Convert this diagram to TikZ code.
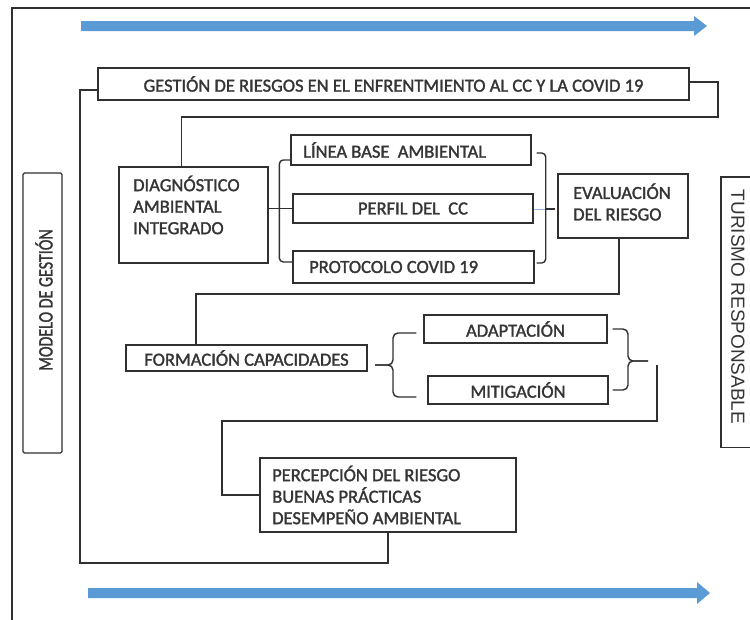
\documentclass[tikz,border=0pt]{standalone}
\usepackage{fontspec}
\setmainfont{Carlito}
\newfontfamily\semib{Carlito}[FakeBold=1.6]
\newfontfamily\arialf{Liberation Sans}
\usetikzlibrary{calc}
\definecolor{txt}{HTML}{353535}
\definecolor{ln}{HTML}{303030}
\definecolor{arrowblue}{HTML}{5B9BD5}
\definecolor{thinblue}{HTML}{8FB8E0}
\begin{document}
\begin{tikzpicture}[x=1pt,y=-1pt,
  box/.style={draw=ln, line width=1.4pt, inner sep=0pt, anchor=center},
  conn/.style={draw=ln, line width=1.4pt},
  lbl/.style={text=txt, font=\semib\fontsize{18.5}{21.5}\selectfont, inner sep=0pt},
  bigarrow/.style={fill=arrowblue, draw=none}]
\useasboundingbox (0,0) rectangle (750,619);
% outer frame
\draw[ln, line width=1.1pt] (770,8) -- (12,8) -- (12,640);
% blue arrows
\fill[bigarrow] (81,21) -- (694,21) -- (694,16) -- (707,26) -- (694,36) -- (694,31) -- (81,31) -- cycle;
\fill[bigarrow] (88,588) -- (697,588) -- (697,582) -- (710,593) -- (697,604) -- (697,598) -- (88,598) -- cycle;
% boxes
\node[box, lbl, minimum width=591pt, minimum height=32pt] (gest) at (393.5,84) {GESTIÓN DE RIESGOS EN EL ENFRENTMIENTO AL CC Y LA COVID 19};
\node[box, minimum width=149pt, minimum height=96pt] (diag) at (193.5,215) {};
\node[lbl, align=left, anchor=west] (diagt) at (133,205) {DIAGNÓSTICO\\AMBIENTAL\\INTEGRADO};
\node[box, minimum width=240pt, minimum height=30pt] (linea) at (411,150) {};
\node[lbl, anchor=west] (lineat) at (303,150) {LÍNEA BASE \ AMBIENTAL};
\node[box, lbl, minimum width=240pt, minimum height=29pt] (perfil) at (413,208.5) {PERFIL DEL \ CC};
\node[box, minimum width=241pt, minimum height=32pt] (proto) at (413.5,267) {};
\node[lbl, anchor=west] (protot) at (309,267) {PROTOCOLO COVID 19};
\node[box, minimum width=130pt, minimum height=64pt] (eval) at (623,206) {};
\node[lbl, align=left, anchor=west] (evalt) at (573,202) {EVALUACIÓN\\DEL RIESGO};
\node[box, lbl, minimum width=241pt, minimum height=26pt] (form) at (246.5,358) {FORMACIÓN CAPACIDADES};
\node[box, lbl, minimum width=183pt, minimum height=28pt] (adapt) at (515.5,329) {ADAPTACIÓN};
\node[box, lbl, minimum width=180pt, minimum height=28pt] (mitig) at (518,390) {MITIGACIÓN};
\node[box, minimum width=256pt, minimum height=74pt] (perc) at (388,495) {};
\node[lbl, align=left, anchor=west] (perct) at (272,495) {PERCEPCIÓN DEL RIESGO\\BUENAS PRÁCTICAS\\DESEMPEÑO AMBIENTAL};
\node[box, rounded corners=1.5pt, minimum width=39pt, minimum height=280pt] (modelo) at (42.5,313) {};
\node[lbl, font=\semib\fontsize{20.5}{24}\selectfont, rotate=90] (modelot) at (44,300) {\scalebox{0.78}[1]{MODELO DE GESTIÓN}};
\node[inner sep=0pt, minimum width=48pt, minimum height=270pt] (turismo) at (745,312) {};
\draw[conn] (turismo.north east) -- (turismo.north west) -- (turismo.south west) -- (turismo.south east);
\node[text=txt, inner sep=0pt, font=\arialf\fontsize{19}{22}\selectfont, rotate=-90] (turismot) at (738,307) {TURISMO RESPONSABLE};
% connectors
\coordinate (gL) at (80,90);
\coordinate (gB) at (80,563);
\draw[conn] (gest.west |- gL) -- (gL) -- (gB) -- (gB -| perc.south) -- (perc.south);
\coordinate (gR) at (718,82);
\coordinate (gR2) at (718,117);
\coordinate (dT) at ($(diag.north west)!0.42!(diag.north east)$);
\draw[conn] (gest.east |- gR) -- (gR) -- (gR2) -- (gR2 -| dT) -- (dT);
\draw[conn] (perfil.west) -- (perfil.west -| diag.east);
\draw[conn, rounded corners=4pt] ($(linea.west)+(0,10)$) -- ++(-11,0) |- ($(proto.west)+(0,-5)$);
\draw[conn, rounded corners=4pt] ($(linea.east)+(5,3)$) -- ($(linea.east)+(14,3)$) |- ($(proto.east)+(2,-4)$);
\coordinate (rbm) at (545,209);
\draw[conn] (rbm) -- ++(10,0);
\draw[thinblue, line width=1pt] (perfil.east |- rbm) -- (rbm);
\coordinate (eB) at (619,294);
\coordinate (fT) at ($(form.north)+(-50.5,0)$);
\draw[conn] (eval.south -| eB) -- (eB) -- (eB -| fT) -- (fT);
\coordinate (lbT) at ($(adapt.west)+(-7,4)$);
\coordinate (lbB) at ($(mitig.west)+(-11,7)$);
\coordinate (lbTip) at (375,365);
\draw[conn, rounded corners=5pt] (lbT) -- (lbT -| 393,0) -- (393,365) -- (lbTip);
\draw[conn, rounded corners=5pt] (lbB) -- (lbB -| 393,0) -- (393,365) -- (lbTip);
\coordinate (rbT) at ($(adapt.east)+(5,0)$);
\coordinate (rbB) at ($(mitig.east)+(4,0)$);
\coordinate (rbTip) at (648,361);
\draw[conn, rounded corners=5pt] (rbT) -- (rbT -| 628,0) -- (628,361) -- (rbTip);
\draw[conn, rounded corners=5pt] (rbB) -- (rbB -| 628,0) -- (628,361) -- (rbTip);
\coordinate (mR) at (657,365);
\coordinate (mB) at (657,421);
\coordinate (pL) at (222,421);
\draw[conn] (mR) -- (mB) -- (pL) |- (perc.west);
\end{tikzpicture}
\end{document}
